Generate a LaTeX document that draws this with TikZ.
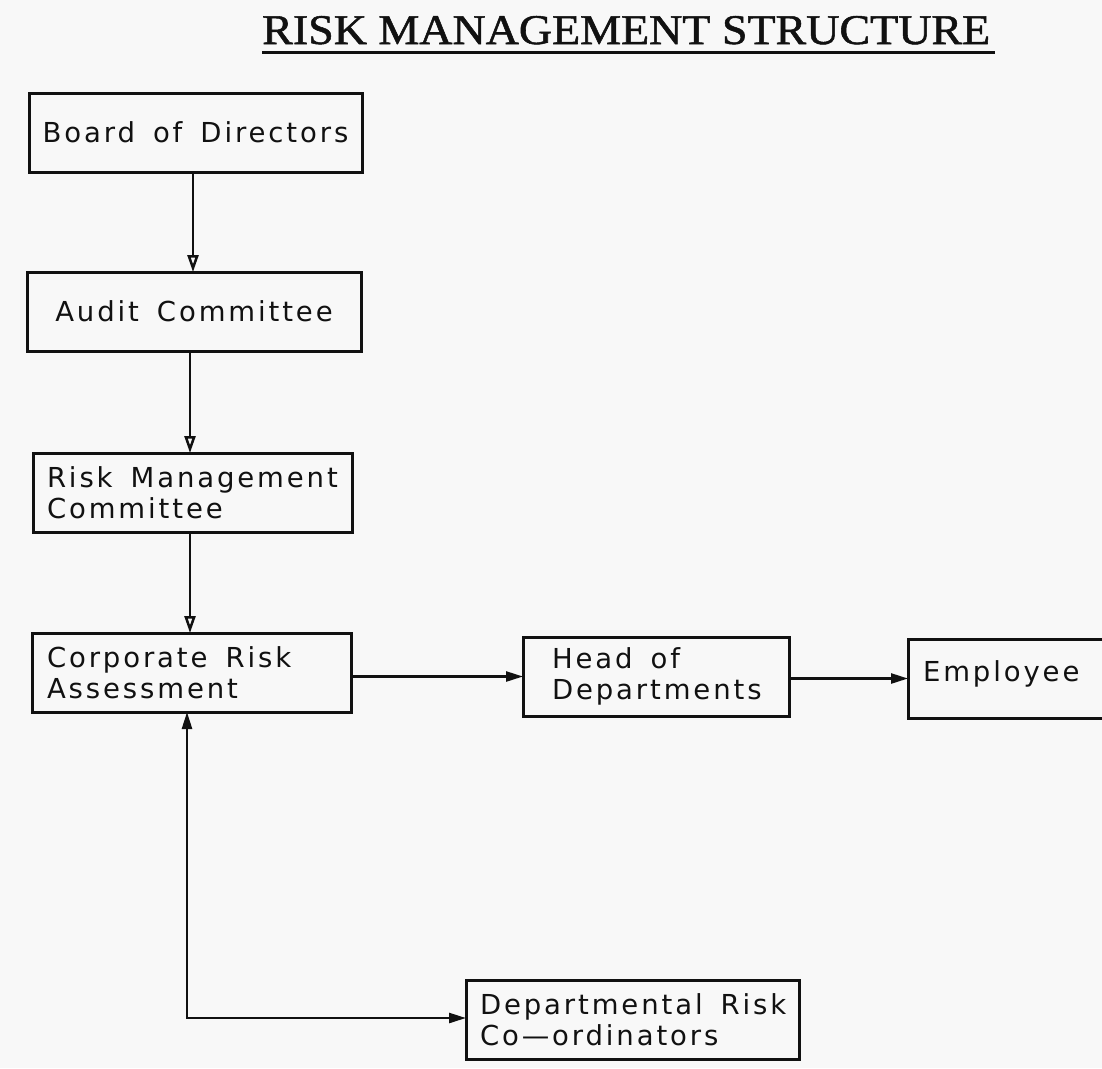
\documentclass[tikz,border=0pt]{standalone}
\usepackage{fontspec}
\setmainfont{Liberation Serif}
\newfontfamily\titlefont[FakeBold=1.2]{Liberation Serif}
\newfontfamily\cadfont[LetterSpace=10.5]{DejaVu Sans}
\usetikzlibrary{arrows.meta}
\definecolor{paper}{HTML}{F8F8F8}
\definecolor{ink}{HTML}{111111}
% wide word gap of the drafting lettering
\newcommand\wgap{\nobreak\hspace{18pt}\nobreak}

\begin{document}
\begin{tikzpicture}[x=1pt,y=-1pt,
  box/.style={draw=ink, line width=3pt, rectangle, anchor=north west,
    outer sep=0pt, inner ysep=0pt, minimum height=79pt, align=left,
    font=\cadfont\fontsize{27.5}{31}\selectfont, text=ink},
  centred/.style={inner xsep=0pt, text width=#1, align=center},
  inset/.style 2 args={inner xsep=#1, text width=#2},
  down/.style={draw=ink, line width=2.5pt, -{Triangle[open,length=17pt,width=11pt]}},
  side/.style={draw=ink, line width=2.5pt, -{Triangle[length=17pt,width=10pt]}},
  both/.style={draw=ink, line width=2.5pt, {Triangle[length=17pt,width=10pt]}-{Triangle[length=17pt,width=10pt]}},
]
% paper and page size
\fill[paper] (0,0) rectangle (1102,1068);
\useasboundingbox (0,0) rectangle (1102,1068);

% heading
\node[anchor=base west, inner sep=0pt, text=ink,
  font=\titlefont\fontsize{42.3}{50}\selectfont] (title) at (262,44)
  {\scalebox{1.087}[1]{RISK MANAGEMENT STRUCTURE}};
\draw[ink, line width=3pt] (262,52) -- (995,52);

% chain of responsibility
\node[box, centred=333pt] (board) at (29,93) {Board\wgap of\wgap Directors};
\node[box, centred=334pt] (audit) at (27,272) {Audit\wgap Committee};
\node[box, inset={14pt}{291pt}] (rmc) at (33,453) {Risk\wgap Management\\Committee};
\node[box, inset={15pt}{289pt}] (cra) at (32,633) {Corporate\wgap Risk\\Assessment};
\node[box, inset={29pt}{208pt}] (head) at (523,637) {Head\wgap of\\Departments};
\node[box, inset={15pt}{172pt}] (emp) at (908,639) {\raisebox{5pt}[\height][\depth]{Employee}};
\node[box, inset={14pt}{305pt}] (dept) at (466,980) {Departmental\wgap Risk\\Co—ordinators};

% connectors
\coordinate (corner) at (187,1018);
\draw[down] (board.south -| 193,0) -- (audit.north -| 193,0);
\draw[down] (audit.south -| 190,0) -- (rmc.north -| 190,0);
\draw[down] (rmc.south -| 190,0) -- (cra.north -| 190,0);
\draw[side] (cra.east |- head.west) -- (head.west);
\draw[side] (head.east |- emp.west) -- (emp.west);
\draw[both] (cra.south -| corner) -- (corner) -- (dept.west |- corner);
\end{tikzpicture}
\end{document}
